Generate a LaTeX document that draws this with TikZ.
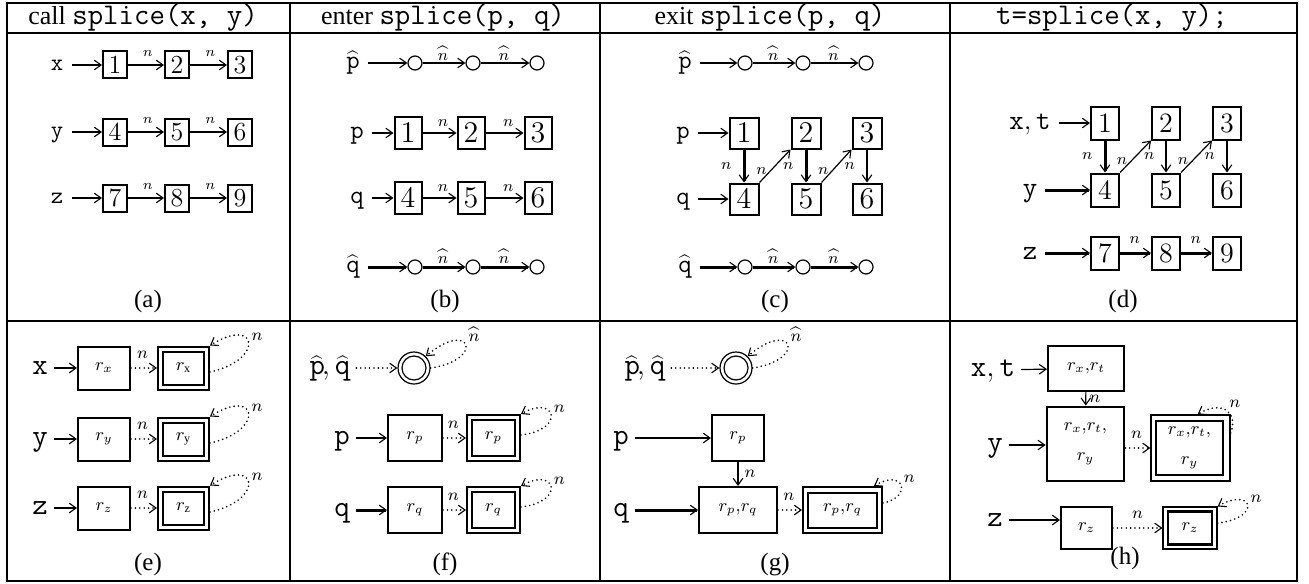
\RequirePackage{fix-cm}
\documentclass[tikz,border=0pt]{standalone}
\usepackage{fontspec}
\setmainfont{Liberation Serif}
\usetikzlibrary{arrows.meta}
\newcommand\fsz[1]{\fontsize{#1}{#1}\selectfont}
\newcommand\hmono[1]{{\fsz{15}\ttfamily #1}}
\newcommand\hatp{\ensuremath{\widehat{\texttt{p}}}}
\newcommand\hatq{\ensuremath{\widehat{\texttt{q}}}}
\newcommand\hatn{\ensuremath{\widehat{n}}}
\newcommand\hatpq{\ensuremath{\widehat{\texttt{p}}\mkern-2mu,\widehat{\texttt{q}}}}
\tikzset{
  ln/.style={line width=0.6pt},
  md/.style={line width=1pt},
  tk/.style={line width=1.5pt},
  bx/.style={draw, line width=1pt, inner sep=0pt},
  circ/.style={draw, circle, inner sep=0pt, minimum size=7pt, line width=0.6pt},
  lab/.style 2 args={inner sep=0pt, text depth=0pt, text height=#1, outer sep=#2},
  dts/.style={line width=0.9pt, line cap=round, dash pattern=on 0pt off 2.2pt},
  hdr/.style={anchor=base, inner sep=0pt, font=\fsz{13}},
  sublab/.style={anchor=base, inner sep=0pt, font=\fsz{12.5}},
  labA/.style={lab={5.2pt}{4.5pt}, font=\fsz{12}\ttfamily},
  boxA/.style={bx, minimum width=12pt, minimum height=13.5pt, font=\fsz{13}},
  nA/.style={font=\fsz{7}, inner sep=0pt, anchor=south, yshift=4pt, pos=0.55},
  labB/.style={lab={5.6pt}{4pt}, font=\fsz{13}\ttfamily},
  boxB/.style={bx, minimum width=13.5pt, minimum height=16pt, font=\fsz{15}},
  nB/.style={font=\fsz{8}, inner sep=0pt, anchor=south, yshift=3pt, pos=0.6},
  nhB/.style={font=\fsz{8}, inner sep=0pt, anchor=south, yshift=0.8pt, pos=0.48},
  boxC/.style={bx, minimum width=14.5pt, minimum height=15.5pt, font=\fsz{15}},
  nv/.style={font=\fsz{8}, inner sep=0pt, anchor=east, xshift=-5.5pt, pos=0.5},
  nd/.style={font=\fsz{8}, inner sep=0pt, anchor=east, xshift=-1.5pt, pos=0.35},
  labD/.style={lab={6pt}{4pt}, font=\fsz{14}\ttfamily},
  boxD/.style={bx, minimum width=14pt, minimum height=16.5pt, font=\fsz{14}},
  nD/.style={font=\fsz{8}, inner sep=0pt, anchor=south, yshift=4pt, pos=0.48},
  labE/.style={lab={6.5pt}{3pt}, font=\fsz{15}\ttfamily},
  boxE/.style={bx, font=\fsz{9}},
  dbo/.style={draw, line width=1pt, inner sep=0pt},
  dbi/.style={draw, line width=1pt, inner sep=0pt, font=\fsz{9}},
  nE/.style={font=\fsz{8.5}, inner sep=0pt, anchor=south, yshift=4.5pt, pos=0.45},
  nL/.style={font=\fsz{8.5}, inner sep=1pt, anchor=south west, pos=0.5},
}
\begin{document}
\begin{tikzpicture}[x=0.5pt,y=-0.5pt,
  >={Straight Barb[length=3.4pt,width=4.8pt,line width'=0.55pt]}]
\useasboundingbox (0,0) rectangle (1309,583);
% ---------- table ----------
\draw[line width=1pt] (7,3) rectangle (1297,581);
\draw[line width=0.7pt] (7,33) -- (1297,33);
\draw[line width=0.7pt] (7,321) -- (1297,321);
\draw[line width=0.6pt] (290,3) -- (290,581);
\draw[line width=1pt] (600,3) -- (600,581);
\draw[line width=0.7pt] (950,3) -- (950,581);
\node[hdr] (h-a) at (143,25) {call \hmono{splice(x, y)}};
\node[hdr] (h-b) at (443,25) {enter \hmono{splice(p, q)}};
\node[hdr] (h-c) at (770,25) {exit \hmono{splice(p, q)}};
\node[hdr] (h-d) at (1112,25) {\hmono{t=splice(x, y);}};
\node[sublab] (s-a) at (148,307) {(a)};
\node[sublab] (s-b) at (445,307) {(b)};
\node[sublab] (s-c) at (775,307) {(c)};
\node[sublab] (s-d) at (1123,307) {(d)};
\node[sublab] (s-e) at (148,570) {(e)};
\node[sublab] (s-f) at (445,570) {(f)};
\node[sublab] (s-g) at (775,570) {(g)};
\node[sublab] (s-h) at (1125,564) {(h)};
% ---------- (a) ----------
\node[labA] (ax) at (57,65) {x};
\node[labA] (ay) at (57,132) {y};
\node[labA] (az) at (57,198) {z};
\foreach \k/\xx/\yy in {1/115/65,2/177/65,3/240/65,4/115/132,5/177/132,6/240/132,7/115/198,8/177/198,9/240/198}
  \node[boxA] (a\k) at (\xx,\yy) {$\k$};
\draw[->,ln] (ax) -- (a1);
\draw[->,ln] (a1) -- node[nA]{$n$} (a2);
\draw[->,ln] (a2) -- node[nA]{$n$} (a3);
\draw[->,ln] (ay) -- (a4);
\draw[->,ln] (a4) -- node[nA]{$n$} (a5);
\draw[->,ln] (a5) -- node[nA]{$n$} (a6);
\draw[->,ln] (az) -- (a7);
\draw[->,ln] (a7) -- node[nA]{$n$} (a8);
\draw[->,ln] (a8) -- node[nA]{$n$} (a9);
% ---------- (b) ----------
\node[labB] (bph) at (353,63) {\hatp};
\node[circ] (bc1) at (415,63) {};
\node[circ] (bc2) at (473,63) {};
\node[circ] (bc3) at (537,63) {};
\draw[->,md] (bph) -- (bc1);
\draw[->,md] (bc1) -- node[nhB]{\hatn} (bc2);
\draw[->,md] (bc2) -- node[nhB]{\hatn} (bc3);
\node[labB] (bp) at (357,133) {p};
\node[labB] (bq) at (357,198) {q};
\foreach \k/\xx/\yy in {1/408/133,2/471/133,3/538/133,4/408/198,5/471/198,6/538/198}
  \node[boxB] (b\k) at (\xx,\yy) {$\k$};
\draw[->,ln] (bp) -- (b1);
\draw[->,ln] (b1) -- node[nB]{$n$} (b2);
\draw[->,ln] (b2) -- node[nB]{$n$} (b3);
\draw[->,ln] (bq) -- (b4);
\draw[->,ln] (b4) -- node[nB]{$n$} (b5);
\draw[->,ln] (b5) -- node[nB]{$n$} (b6);
\node[labB] (bqh) at (353,267) {\hatq};
\node[circ] (bc4) at (415,267) {};
\node[circ] (bc5) at (473,267) {};
\node[circ] (bc6) at (537,267) {};
\draw[->,tk] (bqh) -- (bc4);
\draw[->,tk] (bc4) -- node[nhB]{\hatn} (bc5);
\draw[->,tk] (bc5) -- node[nhB]{\hatn} (bc6);
% ---------- (c) ----------
\node[labB] (cph) at (685,63) {\hatp};
\node[circ] (cc1) at (745,63) {};
\node[circ] (cc2) at (803,63) {};
\node[circ] (cc3) at (866,63) {};
\draw[->,md] (cph) -- (cc1);
\draw[->,md] (cc1) -- node[nhB]{\hatn} (cc2);
\draw[->,md] (cc2) -- node[nhB]{\hatn} (cc3);
\node[labB] (cp) at (683,133) {p};
\node[labB] (cq) at (683,199) {q};
\foreach \k/\xx/\yy in {1/744/133,2/806/133,3/867/133,4/744/199,5/806/199,6/867/199}
  \node[boxC] (c\k) at (\xx,\yy) {$\k$};
\draw[->,ln] (cp) -- (c1);
\draw[->,ln] (cq) -- (c4);
\draw[->,tk] (c1) -- node[nv]{$n$} (c4);
\draw[->,ln] (c4.north east) -- node[nd]{$n$} (c2.south west);
\draw[->,tk] (c2) -- node[nv]{$n$} (c5);
\draw[->,ln] (c5.north east) -- node[nd]{$n$} (c3.south west);
\draw[->,md] (c3) -- node[nv]{$n$} (c6);
\node[labB] (cqh) at (685,267) {\hatq};
\node[circ] (cc4) at (745,267) {};
\node[circ] (cc5) at (803,267) {};
\node[circ] (cc6) at (866,267) {};
\draw[->,tk] (cqh) -- (cc4);
\draw[->,tk] (cc4) -- node[nhB]{\hatn} (cc5);
\draw[->,tk] (cc5) -- node[nhB]{\hatn} (cc6);
% ---------- (d) ----------
\node[labD] (dxt) at (1030,123) {$\texttt{x}, \texttt{t}$};
\node[labD] (dy) at (1030,190) {y};
\node[labD] (dz) at (1030,253) {z};
\foreach \k/\xx/\yy in {1/1105/123,2/1166/123,3/1227/123,4/1105/190,5/1166/190,6/1227/190,7/1105/253,8/1166/253,9/1227/253}
  \node[boxD] (d\k) at (\xx,\yy) {$\k$};
\draw[->,ln] (dxt) -- (d1);
\draw[->,tk] (dy) -- (d4);
\draw[->,tk] (dz) -- (d7);
\draw[->,tk] (d7) -- node[nD]{$n$} (d8);
\draw[->,tk] (d8) -- node[nD]{$n$} (d9);
\draw[->,tk] (d1) -- node[nv]{$n$} (d4);
\draw[->,ln] (d4.north east) -- node[nd]{$n$} (d2.south west);
\draw[->,ln] (d2) -- node[nv]{$n$} (d5);
\draw[->,ln] (d5.north east) -- node[nd]{$n$} (d3.south west);
\draw[->,md] (d3) -- node[nv]{$n$} (d6);
% ---------- (e) ----------
\node[labE] (ex) at (40,368) {x};
\node[labE] (ey) at (40,439) {y};
\node[labE] (ez) at (40,508) {z};
\node[boxE, minimum width=26pt, minimum height=21.5pt] (e1) at (104,368) {$r_x$};
\node[boxE, minimum width=26pt, minimum height=21.5pt] (e2) at (104,439) {$r_y$};
\node[boxE, minimum width=26pt, minimum height=21.5pt] (e3) at (104,508) {$r_z$};
\node[dbo, minimum width=25.5pt, minimum height=21.5pt] (e1d) at (183.5,368) {};
\node[dbi, minimum width=20.5pt, minimum height=16.5pt] (e1i) at (e1d) {$r_{\mathrm{x}}$};
\node[dbo, minimum width=25.5pt, minimum height=21.5pt] (e2d) at (183.5,439) {};
\node[dbi, minimum width=20.5pt, minimum height=16.5pt] (e2i) at (e2d) {$r_{\mathrm{y}}$};
\node[dbo, minimum width=25.5pt, minimum height=21.5pt] (e3d) at (183.5,508) {};
\node[dbi, minimum width=20.5pt, minimum height=16.5pt] (e3i) at (e3d) {$r_{\mathrm{z}}$};
\foreach \k/\v in {1/ex,2/ey,3/ez}{
  \draw[->,ln] (\v) -- (e\k);
  \draw[->,dts] (e\k) -- node[nE]{$n$} (e\k d);
  \draw[->,dts] ([yshift=-2pt]e\k d.east) .. controls +(55,-12) and +(48,-30) .. (e\k d.north east) node[nL]{$n$};
}
% ---------- (f) ----------
\node[labE] (fpq) at (330,368) {\hatpq};
\node[circ, minimum size=16pt] (fc) at (414,368) {};
\node[circ, minimum size=12pt] (fci) at (fc) {};
\draw[->,dts] (fpq) -- (fc);
\draw[->,dts] (fc.east) .. controls +(55,-8) and +(45,-38) .. (fc.45) node[nL]{\hatn};
\node[labE] (fp) at (342,438) {p};
\node[labE] (fq) at (342,510) {q};
\node[boxE, minimum width=27pt, minimum height=23pt] (f1) at (415,438) {$r_p$};
\node[boxE, minimum width=27pt, minimum height=23pt] (f2) at (415,510) {$r_q$};
\node[dbo, minimum width=26.5pt, minimum height=23pt] (f1d) at (493.5,438) {};
\node[dbi, minimum width=21.5pt, minimum height=18pt] (f1i) at (f1d) {$r_p$};
\node[dbo, minimum width=26.5pt, minimum height=23pt] (f2d) at (493.5,510) {};
\node[dbi, minimum width=21.5pt, minimum height=18pt] (f2i) at (f2d) {$r_q$};
\draw[->,ln] (fp) -- (f1);
\draw[->,tk] (fq) -- (f2);
\foreach \k in {1,2}{
  \draw[->,dts] (f\k) -- node[nE]{$n$} (f\k d);
  \draw[->,dts] ([yshift=1.5pt]f\k d.east) .. controls +(45,-5) and +(35,-20) .. (f\k d.north east) node[nL]{$n$};
}
% ---------- (g) ----------
\node[labE] (gpq) at (645,368) {\hatpq};
\node[circ, minimum size=16pt] (gc) at (736,368) {};
\node[circ, minimum size=12pt] (gci) at (gc) {};
\draw[->,dts] (gpq) -- (gc);
\draw[->,dts] (gc.east) .. controls +(55,-8) and +(45,-38) .. (gc.45) node[nL]{\hatn};
\node[labE] (gp) at (621,438) {p};
\node[labE] (gq) at (621,510) {q};
\node[boxE, minimum width=26pt, minimum height=23pt] (g1) at (738,438) {$r_p$};
\node[boxE, minimum width=39pt, minimum height=23pt] (g2) at (738,510) {$r_p{,}r_q$};
\node[dbo, minimum width=39.5pt, minimum height=23pt] (g2d) at (842.5,510) {};
\node[dbi, minimum width=34.5pt, minimum height=17.5pt] (g2i) at (g2d) {$r_p{,}r_q$};
\draw[->,ln] (gp) -- (g1);
\draw[->,tk] (gq) -- (g2);
\draw[->,ln] (g1) -- node[font=\fsz{8.5}, inner sep=0pt, anchor=west, xshift=3pt, pos=0.5]{$n$} (g2);
\draw[->,dts] (g2) -- node[nE]{$n$} (g2d);
\draw[->,dts] ([yshift=3.5pt]g2d.east) .. controls +(30,-6) and +(30,-18) .. ([xshift=-4.5pt]g2d.north east) node[nL]{$n$};
% ---------- (h) ----------
\node[labE] (hxt) at (993,370) {$\texttt{x}, \texttt{t}$};
\node[labE] (hy) at (995,445) {y};
\node[labE] (hz) at (995,520) {z};
\node[boxE, minimum width=38pt, minimum height=22.5pt] (h1) at (1086,368.5) {$r_x{,}r_t$};
\node[boxE, line width=1.4pt, minimum width=38.5pt, minimum height=37pt, align=center] (h2) at (1085.5,444) {$r_x{,}r_t{,}$\\[6pt]$r_y$};
\node[dbo, line width=0.6pt, minimum width=39.5pt, minimum height=33pt] (h2d) at (1190.5,448) {};
\node[dbi, line width=1.4pt, minimum width=33.5pt, minimum height=27pt, align=center] (h2i) at (1189.5,448) {$r_x{,}r_t{,}$\\[6pt]$r_y$};
\node[boxE, minimum width=25.5pt, minimum height=21pt] (h3) at (1086.5,528) {$r_z$};
\node[dbo, line width=0.6pt, minimum width=27pt, minimum height=21pt] (h3d) at (1190,528) {};
\node[dbi, line width=1.4pt, minimum width=22pt, minimum height=16.5pt] (h3i) at (h3d) {$r_z$};
\draw[->,ln] (hxt) -- (h1);
\draw[->,ln] (h1) -- node[font=\fsz{8.5}, inner sep=0pt, anchor=west, xshift=1.5pt, pos=0.5]{$n$} (h2);
\draw[->,md] (hy) -- (hy -| h2.west);
\draw[->,md] (hz) -- (hz -| h3.west);
\draw[->,dts] (h2.east |- h2d.west) -- node[nE]{$n$} (h2d.west);
\draw[->,dts] (h3) -- node[nE, pos=0.5]{$n$} (h3d);
\draw[->,dts] ([yshift=7.5pt]h2d.east) .. controls +(8,-20) and +(25,-15) .. ([xshift=-16.5pt]h2d.north east) node[nL]{$n$};
\draw[->,dts] ([yshift=2.5pt]h3d.east) .. controls +(45,-5) and +(35,-20) .. (h3d.north east) node[nL]{$n$};
\end{tikzpicture}
\end{document}
